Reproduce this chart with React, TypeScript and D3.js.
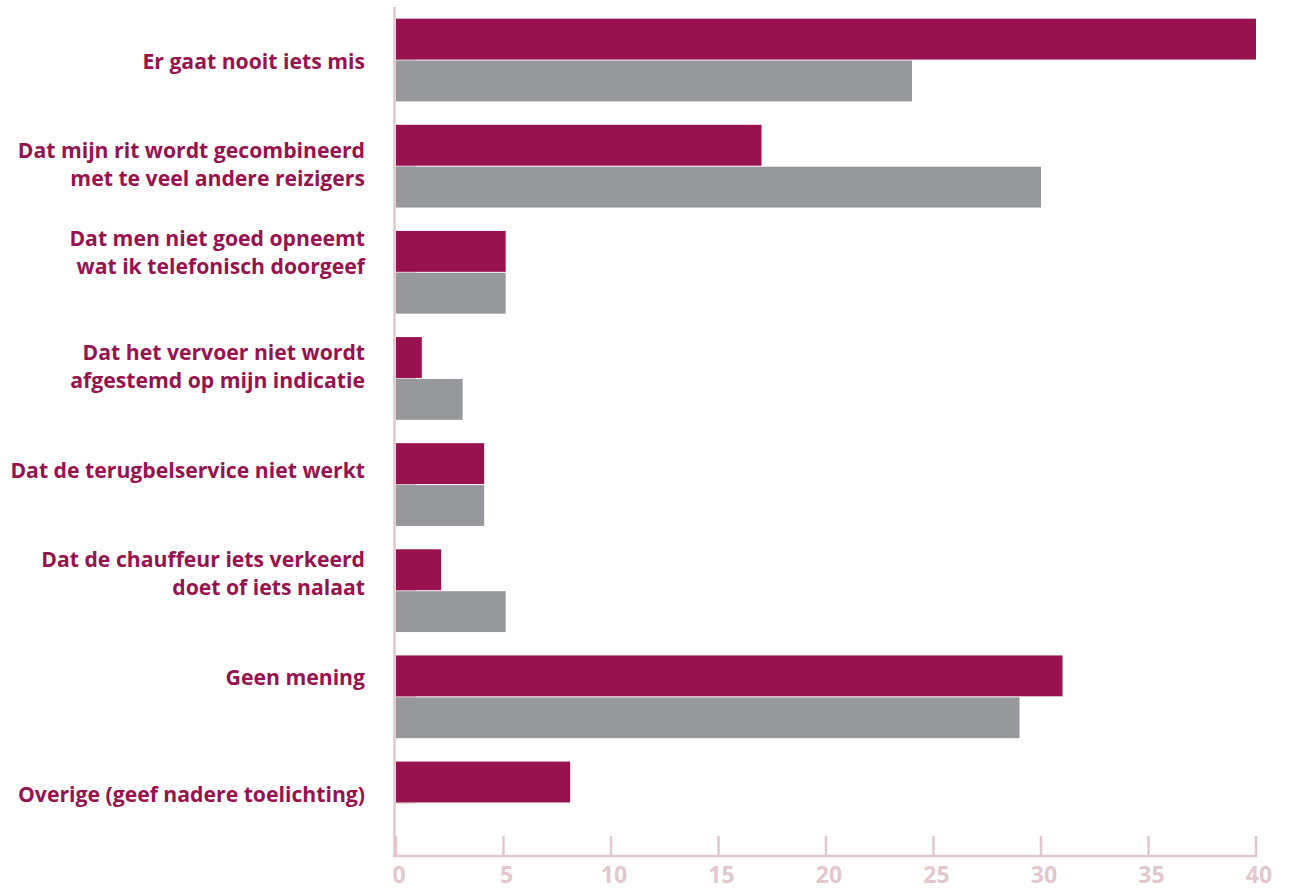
import React from "react";
import * as d3 from "d3";

const categories: string[] = [
  "Er gaat nooit iets mis",
  "Dat mijn rit wordt gecombineerd\nmet te veel andere reizigers",
  "Dat men niet goed opneemt\nwat ik telefonisch doorgeef",
  "Dat het vervoer niet wordt\nafgestemd op mijn indicatie",
  "Dat de terugbelservice niet werkt",
  "Dat de chauffeur iets verkeerd\ndoet of iets nalaat",
  "Geen mening",
  "Overige (geef nadere toelichting)",
];
const seriesA: number[] = [40, 17, 5.1, 1.2, 4.1, 2.1, 31, 8.1];
const seriesB: number[] = [24, 30, 5.1, 3.1, 4.1, 5.1, 29, 0];
const xTicks: number[] = [0, 5, 10, 15, 20, 25, 30, 35, 40];

// layout: first-line baseline offset of each label relative to its band centre
const labelDy: number[] = [9.2, -8.5, -26.3, -18.4, -6.2, -23.9, -11.7, -1.1];

const W = 1291;
const H = 888;
const CRIMSON = "#97124f";
const GREY = "#97989c";
const PINK = "#e2c7cd";
const FONT = "'Open Sans', 'Noto Sans', sans-serif";

export default function App() {
  const x = d3.scaleLinear().domain([0, 40]).range([396, 1256]);
  const y = d3
    .scaleBand<number>()
    .domain(categories.map((_, i) => i))
    .range([7, 856])
    .paddingInner(0.22)
    .paddingOuter(0.11);
  const bw = y.bandwidth();
  const barH = (bw - 1) / 2;
  const axisY = 856;
  const axisX = 394.5;

  return (
    <svg
      width={W}
      height={H}
      style={{ position: "absolute", left: 0, top: 0, background: "#fff" }}
      fontFamily={FONT}
    >
      {/* mid-category ticks */}
      {categories.map((_, i) => {
        const cy = (y(i) as number) + bw / 2;
        return (
          <line key={"m" + i} x1={396} x2={416} y1={cy} y2={cy} stroke={PINK} strokeWidth={1.5} />
        );
      })}
      {/* bars */}
      {categories.map((_, i) => {
        const y0 = y(i) as number;
        return (
          <g key={"b" + i}>
            <rect x={x(0)} y={y0} width={x(seriesA[i]) - x(0)} height={barH} fill={CRIMSON} />
            <rect x={x(0)} y={y0 + barH + 1} width={x(seriesB[i]) - x(0)} height={barH} fill={GREY} />
          </g>
        );
      })}
      {/* y axis line */}
      <line x1={axisX} x2={axisX} y1={7} y2={axisY + 1.2} stroke={PINK} strokeWidth={2.5} />
      {/* x axis */}
      <line x1={axisX - 1.2} x2={x(40) + 1.2} y1={axisY} y2={axisY} stroke={PINK} strokeWidth={2.5} />
      {xTicks.map((t) => (
        <g key={"t" + t}>
          <line x1={x(t)} x2={x(t)} y1={836} y2={axisY} stroke={PINK} strokeWidth={2.5} />
          <text
            x={x(t) + 3}
            y={882.5}
            textAnchor="middle"
            fontSize={23}
            fontWeight={700}
            fill={PINK}
          >
            {t}
          </text>
        </g>
      ))}
      {/* category labels */}
      {categories.map((c, i) => {
        const cy = (y(i) as number) + bw / 2;
        const lines = c.split("\n");
        const lh = 28.3;
        const start = cy + labelDy[i];
        return (
          <text key={"l" + i} textAnchor="end" fontSize={21.2} fontWeight={700} fill={CRIMSON}>
            {lines.map((ln, k) => (
              <tspan key={k} x={365} y={start + k * lh}>
                {ln}
              </tspan>
            ))}
          </text>
        );
      })}
    </svg>
  );
}
